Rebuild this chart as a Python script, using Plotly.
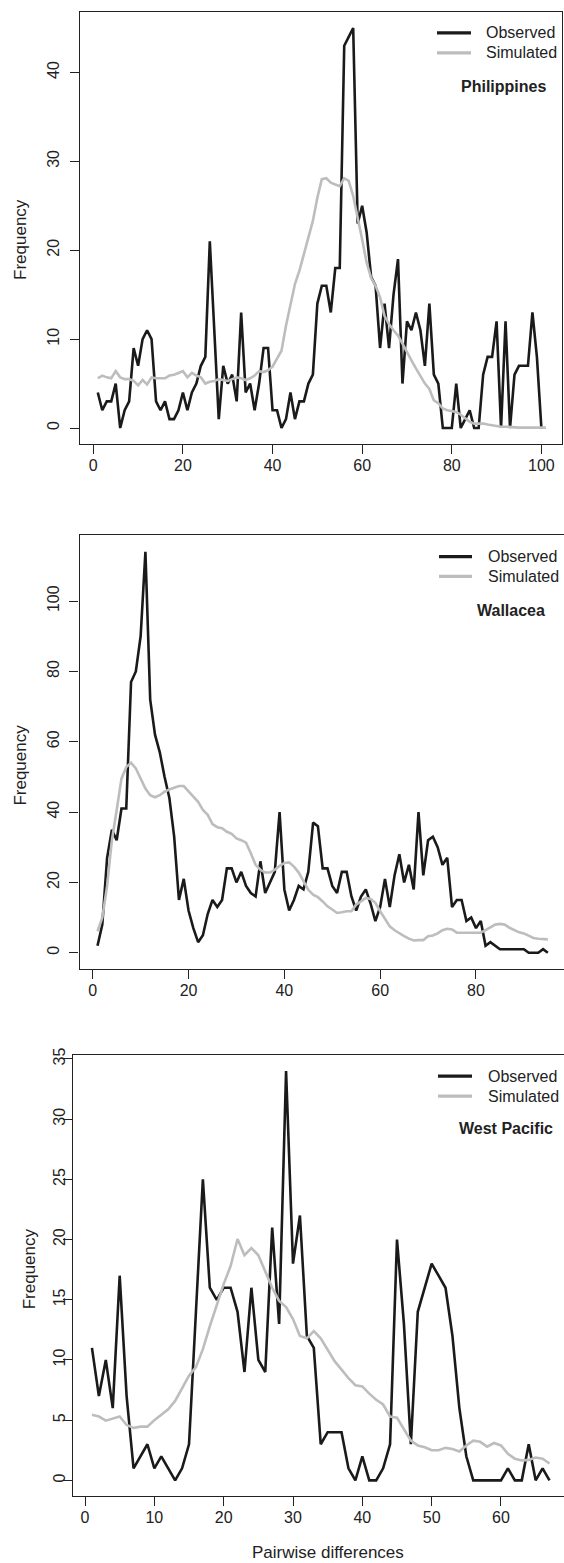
import plotly.graph_objects as go

# ---------------- data ----------------
obs_phil = [4, 2, 3, 3, 5, 0, 2, 3, 9, 7,
            10, 11, 10, 3, 2, 3, 1, 1, 2, 4,
            2, 4, 5, 7, 8, 21, 11, 1, 7, 5,
            6, 3, 13, 4, 5, 2, 5, 9, 9, 2,
            2, 0, 1, 4, 1, 3, 3, 5, 6, 14,
            16, 16, 13, 18, 18, 43, 44, 45, 23, 25,
            22, 17, 16, 9, 14, 9, 15, 19, 5, 12,
            11, 13, 11, 7, 14, 6, 5, 0, 0, 0,
            5, 0, 1, 2, 0, 0, 6, 8, 8, 12,
            0, 12, 0, 6, 7, 7, 7, 13, 8, 0]
sim_phil = [5.6, 5.9, 5.7, 5.6, 6.4, 5.7, 5.5, 5.5, 5.3, 4.8,
            5.4, 4.9, 5.7, 5.6, 5.6, 5.6, 5.9, 6.0, 6.2, 6.4,
            5.7, 6.2, 5.9, 5.7, 5.0, 5.2, 5.3, 5.5, 5.4, 5.3,
            5.5, 5.7, 5.6, 5.4, 5.6, 5.9, 6.4, 6.3, 6.5, 6.9,
            7.8, 8.7, 11.5, 13.8, 16.2, 17.7, 19.6, 21.4, 23.3, 25.9,
            28.0, 28.1, 27.6, 27.4, 27.2, 28.1, 27.8, 26.1, 23.8, 21.2,
            18.6, 16.9, 16.0, 14.7, 12.6, 11.7, 11.0, 10.4, 9.5, 8.5,
            7.6, 6.7, 5.9, 5.0, 4.4, 3.1, 2.8, 2.2, 2.0, 1.9,
            1.8, 1.5, 1.1, 0.7, 0.5, 0.5, 0.5, 0.4, 0.3, 0.2,
            0.15, 0.15, 0.1, 0.05, 0.05, 0.05, 0.05, 0.05, 0.05, 0.05, 0.05]

obs_wall = [2, 8, 27, 35, 32, 41, 41, 77, 80, 90,
            114, 72, 62, 57, 50, 44, 33, 15, 21, 12,
            7, 3, 5, 11, 15, 13, 15, 24, 24, 20,
            23, 19, 17, 16, 26, 17, 20, 23, 40, 18,
            12, 15, 19, 18, 23, 37, 36, 24, 24, 19,
            17, 23, 23, 16, 12, 16, 18, 14, 9, 13,
            21, 13, 22, 28, 20, 25, 18, 40, 22, 32,
            33, 30, 25, 27, 13, 15, 15, 9, 10, 7,
            9, 2, 3, 2, 1, 1, 1, 1, 1, 1,
            0, 0, 0, 1, 0]
sim_wall = [6.1, 10, 19, 32, 40.6, 49.5, 52.8, 54, 52.4, 49.5,
            46.7, 44.8, 44.2, 44.8, 45.8, 46.4, 47, 47.4, 47.4, 46,
            44.3, 42.9, 40.6, 39.2, 36.6, 35.7, 35.4, 34.4, 33.8, 32.5,
            32, 31.3, 28.3, 25, 23.6, 22.8, 22.8, 23.6, 24.7, 25.5,
            25.7, 24.5, 22.8, 20.3, 17.9, 16.5, 15.8, 14.6, 13.2, 12.3,
            11.3, 11.5, 11.8, 11.8, 13.7, 14.6, 15.6, 15.3, 14.2, 11.8,
            9.6, 7.5, 6.4, 5.5, 4.7, 4.0, 3.5, 3.6, 3.6, 4.7,
            4.9, 5.5, 6.4, 6.8, 6.6, 5.7, 5.7, 5.5, 5.7, 5.5,
            5.7, 6.4, 7.1, 8.0, 8.2, 8.0, 7.1, 6.4, 5.8, 5.5,
            4.9, 4.2, 4.0, 3.8, 3.8]

obs_wp = [11, 7, 10, 6, 17, 7, 1, 2, 3, 1,
          2, 1, 0, 1, 3, 14, 25, 16, 15, 16,
          16, 14, 9, 16, 10, 9, 21, 13, 34, 18,
          22, 12, 11, 3, 4, 4, 4, 1, 0, 2,
          0, 0, 1, 3, 20, 13, 3, 14, 16, 18,
          17, 16, 12, 6, 2, 0, 0, 0, 0, 0,
          1, 0, 0, 3, 0, 1, 0]
sim_wp = [5.45, 5.3, 4.96, 5.1, 5.3, 4.6, 4.35, 4.46, 4.46, 5.0,
          5.45, 5.9, 6.6, 7.7, 8.7, 9.4, 10.9, 12.8, 14.6, 16.3,
          17.8, 20.05, 18.7, 19.3, 18.7, 17.4, 16.0, 14.9, 14.4, 13.4,
          12.0, 11.8, 12.4, 11.8, 10.9, 9.9, 9.2, 8.5, 7.9, 7.8,
          7.2, 6.7, 6.3, 5.3, 5.2, 4.3, 3.3, 2.9, 2.75, 2.5,
          2.5, 2.7, 2.6, 2.4, 2.9, 3.3, 3.2, 2.8, 3.1, 2.9,
          2.2, 1.8, 1.65, 1.7, 1.9, 1.8, 1.4]

region_names = ["Philippines", "Wallacea", "West Pacific"]
series_names = ["Observed", "Simulated"]
y_ticks_1 = [0, 10, 20, 30, 40]
y_ticks_2 = [0, 20, 40, 60, 80, 100]
y_ticks_3 = [0, 5, 10, 15, 20, 25, 30, 35]
x_ticks_1 = [0, 20, 40, 60, 80, 100]
x_ticks_2 = [0, 20, 40, 60, 80]
x_ticks_3 = [0, 10, 20, 30, 40, 50, 60]
y_title = "Frequency"
x_title = "Pairwise differences"

# ---------------- layout helpers ----------------
W, H = 564, 1563
def PX(x):
    return x / W
def PY(y):
    return 1 - y / H

FONT = "Liberation Sans, Arial, Helvetica, sans-serif"
BLACK = "#1a1a1a"
GREY = "#bdbdbd"
AX = "#222222"

panels = [
    dict(obs=obs_phil, sim=sim_phil, xt=x_ticks_1, yt=y_ticks_1,
         xdom=(80, 562), ydom=(5, 439), xr=(-2.97, 104.6), yr=(-1.8, 46.8),
         mirror_y=True, ylab_x=21, ylab_y=234, ystand=4,
         leg_line=(437, 471), leg_text=484, leg_y=(26, 46), name_xy=(503, 80)),
    dict(obs=obs_wall, sim=sim_wall, xt=x_ticks_2, yt=y_ticks_2,
         xdom=(79.5, 564), ydom=(530.7, 966), xr=(-2.76, 98.37), yr=(-4.53, 118.7),
         mirror_y=False, ylab_x=21, ylab_y=762, ystand=4,
         leg_line=(439, 472), leg_text=486, leg_y=(552, 572), name_xy=(511, 606)),
    dict(obs=obs_wp, sim=sim_wp, xt=x_ticks_3, yt=y_ticks_3,
         xdom=(73.3, 564), ydom=(1052.5, 1495.7), xr=(-1.69, 69.09), yr=(-1.3, 35.35),
         mirror_y=False, ylab_x=29, ylab_y=1268, ystand=-8,
         leg_line=(438, 472), leg_text=486, leg_y=(1074, 1094), name_xy=(506, 1127)),
]

fig = go.Figure()
layout = dict(width=W, height=H, margin=dict(l=0, r=0, t=0, b=0),
              paper_bgcolor="white", plot_bgcolor="white",
              showlegend=False, font=dict(family=FONT, size=16, color=AX))
shapes = []
annotations = []

for i, p in enumerate(panels):
    k = "" if i == 0 else str(i + 1)
    xs_obs = list(range(1, len(p["obs"]) + 1))
    xs_sim = list(range(1, len(p["sim"]) + 1))
    fig.add_trace(go.Scatter(x=xs_obs, y=p["obs"], mode="lines", name=series_names[0],
                             line=dict(color=BLACK, width=2.6),
                             xaxis="x" + k, yaxis="y" + k))
    fig.add_trace(go.Scatter(x=xs_sim, y=p["sim"], mode="lines", name=series_names[1],
                             line=dict(color=GREY, width=2.6),
                             xaxis="x" + k, yaxis="y" + k))
    common = dict(showgrid=False, zeroline=False, showline=True, linecolor=AX,
                  linewidth=1.3, ticks="outside", ticklen=9, tickwidth=1.2,
                  tickcolor=AX, tickfont=dict(family=FONT, size=16, color=AX))
    layout["xaxis" + k] = dict(common, domain=[PX(p["xdom"][0]), PX(p["xdom"][1])],
                               range=list(p["xr"]), tickvals=p["xt"], mirror=True,
                               anchor="y" + k, ticklabelstandoff=-2)
    layout["yaxis" + k] = dict(common, domain=[PY(p["ydom"][1]), PY(p["ydom"][0])],
                               range=list(p["yr"]), tickvals=p["yt"], tickangle=-90,
                               mirror=p["mirror_y"], anchor="x" + k,
                               ticklabelstandoff=p["ystand"])
    # y axis title
    annotations.append(dict(x=PX(p["ylab_x"]), y=PY(p["ylab_y"]), xref="paper", yref="paper",
                            text=y_title, showarrow=False, textangle=-90,
                            xanchor="center", yanchor="middle",
                            font=dict(family=FONT, size=17, color=AX)))
    # legend
    for j, (col, nm) in enumerate(zip([BLACK, GREY], series_names)):
        yy = p["leg_y"][j]
        shapes.append(dict(type="line", xref="paper", yref="paper",
                           x0=PX(p["leg_line"][0]), x1=PX(p["leg_line"][1]),
                           y0=PY(yy), y1=PY(yy), line=dict(color=col, width=3.2)))
        annotations.append(dict(x=PX(p["leg_text"]), y=PY(yy), xref="paper", yref="paper",
                                text=nm, showarrow=False, xanchor="left", yanchor="middle",
                                font=dict(family=FONT, size=16, color=AX)))
    annotations.append(dict(x=PX(p["name_xy"][0]), y=PY(p["name_xy"][1]),
                            xref="paper", yref="paper",
                            text="<b>" + region_names[i] + "</b>", showarrow=False,
                            xanchor="center", yanchor="middle",
                            font=dict(family=FONT, size=16, color=AX)))

annotations.append(dict(x=PX(328), y=PY(1552), xref="paper", yref="paper",
                        text=x_title, showarrow=False, xanchor="center", yanchor="middle",
                        font=dict(family=FONT, size=17, color=AX)))

layout["shapes"] = shapes
layout["annotations"] = annotations
fig.update_layout(**layout)
fig.write_html("out.html", config={"displayModeBar": False},
               post_script="document.body.style.margin='0';document.body.style.overflow='hidden';")
